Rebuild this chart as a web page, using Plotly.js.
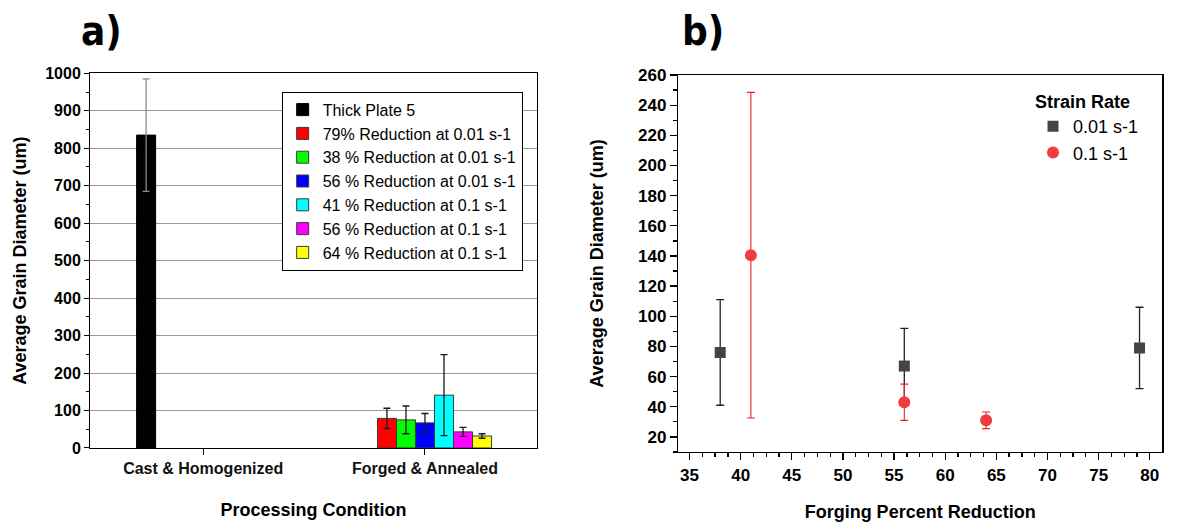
<!DOCTYPE html>
<html>
<head>
<meta charset="utf-8">
<script src="https://cdn.plot.ly/plotly-3.0.1.min.js"></script>
<style>
html, body { margin: 0; padding: 0; background: #fff; }
#chart { width: 1186px; height: 522px; }
</style>
</head>
<body>
<div id="chart"></div>
<script>
// ---------- Panel a) data ----------
const categories = ['Cast & Homogenized', 'Forged & Annealed'];
const barNames = [
  'Thick Plate 5',
  '79% Reduction at 0.01 s-1',
  '38 % Reduction at 0.01 s-1',
  '56 % Reduction at 0.01 s-1',
  '41 % Reduction at 0.1 s-1',
  '56 % Reduction at 0.1 s-1',
  '64 % Reduction at 0.1 s-1'
];
const thickPlate = [835, null];
const thickPlateErr = [150, null];
const red79_001 = [null, 79];
const red79_001Err = [null, 27];
const red38_001 = [null, 75];
const red38_001Err = [null, 37];
const red56_001 = [null, 67];
const red56_001Err = [null, 25];
const red41_01 = [null, 141];
const red41_01Err = [null, 108];
const red56_01 = [null, 43];
const red56_01Err = [null, 12];
const red64_01 = [null, 32];
const red64_01Err = [null, 6];

// ---------- Panel b) data ----------
const pct001 = [38, 56, 79];
const grain001 = [76, 67, 79];
const grain001Err = [35, 25, 27];
const pct01 = [41, 56, 64];
const grain01 = [140.5, 43, 31];
const grain01Err = [108, 12, 5.5];

const FONT = '"Liberation Sans", Arial, sans-serif';
const FONTB = '"Liberation Sans", Arial, sans-serif';
const LABELFONT = '"Liberation Sans Narrow", "DejaVu Sans Condensed", Arial, sans-serif';

const barColors = ['#000000', '#ff0000', '#00ff00', '#0000ff', '#00ffff', '#ff00ff', '#ffff00'];
const barVals = [thickPlate, red79_001, red38_001, red56_001, red41_01, red56_01, red64_01];
const barErrs = [thickPlateErr, red79_001Err, red38_001Err, red56_001Err, red41_01Err, red56_01Err, red64_01Err];

const traces = barVals.map((vals, i) => ({
  type: 'bar',
  x: categories,
  y: vals,
  name: barNames[i],
  xaxis: 'x', yaxis: 'y',
  legend: 'legend',
  marker: { color: barColors[i], line: { color: i === 0 ? '#000000' : '#3a3a3a', width: 1 } },
  error_y: { type: 'data', array: barErrs[i], visible: true,
             color: i === 0 ? '#8a8a8a' : '#1a1a1a', thickness: 1.3, width: 3.5 },
  hoverinfo: 'x+y+name'
}));

traces.push({
  type: 'scatter', mode: 'markers',
  x: pct001, y: grain001, name: '0.01 s-1',
  xaxis: 'x2', yaxis: 'y2', legend: 'legend2',
  marker: { symbol: 'square', size: 11, color: '#444444' },
  error_y: { type: 'data', array: grain001Err, visible: true, color: '#222222', thickness: 1.3, width: 4 }
});
traces.push({
  type: 'scatter', mode: 'markers',
  x: pct01, y: grain01, name: '0.1 s-1',
  xaxis: 'x2', yaxis: 'y2', legend: 'legend2',
  marker: { symbol: 'circle', size: 12, color: '#f03c3c' },
  error_y: { type: 'data', array: grain01Err, visible: true, color: '#e8262b', thickness: 1.1, width: 4 }
});

const tickFontA = { family: FONTB, size: 16, color: '#000', weight: 'bold' };
const tickFontB = { family: FONTB, size: 17, color: '#000', weight: 'bold' };
const titleFont = { family: FONTB, size: 18, color: '#000', weight: 'bold' };

const layout = {
  width: 1186, height: 522,
  margin: { l: 0, r: 0, t: 0, b: 0 },
  paper_bgcolor: '#fff', plot_bgcolor: '#fff',
  font: { family: FONT, color: '#000' },
  barmode: 'group', bargap: 0.4, bargroupgap: 0,
  xaxis: {
    domain: [0.0759, 0.4528], anchor: 'y',
    type: 'category', range: [-0.51, 1.505],
    showline: true, linecolor: '#000', linewidth: 1, mirror: true,
    ticks: 'outside', ticklen: 6, tickcolor: '#000',
    tickfont: { family: FONTB, size: 16, color: '#111', weight: 'bold' },
    showgrid: false, zeroline: false, automargin: false,
    title: { text: 'Processing Condition', font: titleFont, standoff: 27 }
  },
  yaxis: {
    domain: [0.1418, 0.8596], anchor: 'x',
    range: [0, 1000], dtick: 100, tick0: 0,
    showline: true, linecolor: '#000', linewidth: 1, mirror: true,
    ticks: 'outside', ticklen: 5, tickcolor: '#000',
    minor: { dtick: 50, ticks: 'outside', ticklen: 3, tickcolor: '#000', showgrid: false },
    showgrid: true, gridcolor: '#9a9a9a', gridwidth: 1,
    zeroline: false, automargin: false,
    tickfont: tickFontA,
    title: { text: 'Average Grain Diameter (um)', font: titleFont, standoff: 13 }
  },
  yaxis3: {
    overlaying: 'y', anchor: 'x', side: 'right',
    range: [0, 1000], dtick: 100, tick0: 0,
    ticks: 'inside', ticklen: 5, tickcolor: '#000',
    minor: { dtick: 50, ticks: 'inside', ticklen: 3, tickcolor: '#000' },
    showticklabels: false, showgrid: false, zeroline: false, showline: false, automargin: false
  },
  xaxis2: {
    domain: [0.5719, 0.9798], anchor: 'y2',
    range: [33.9, 81.2], dtick: 5, tick0: 35,
    showline: true, linecolor: '#000', linewidth: 1.5, mirror: true,
    ticks: 'outside', ticklen: 7, tickcolor: '#000', tickwidth: 1.3,
    minor: { dtick: 1.25, tick0: 35, ticks: 'outside', ticklen: 4, tickcolor: '#000' },
    showgrid: false, zeroline: false, automargin: false,
    tickfont: tickFontB,
    title: { text: 'Forging Percent Reduction', font: titleFont, standoff: 23 }
  },
  xaxis3: {
    overlaying: 'x2', anchor: 'y2', side: 'top',
    range: [33.9, 81.2], dtick: 5, tick0: 35,
    ticks: 'inside', ticklen: 6, tickcolor: '#000', tickwidth: 1.3,
    minor: { dtick: 1.25, tick0: 35, ticks: 'inside', ticklen: 3, tickcolor: '#000' },
    showticklabels: false, showgrid: false, zeroline: false, showline: false, automargin: false
  },
  yaxis2: {
    domain: [0.1341, 0.8563], anchor: 'x2',
    range: [10, 260], dtick: 20, tick0: 20,
    showline: true, linecolor: '#000', linewidth: 1.5, mirror: true,
    ticks: 'outside', ticklen: 7, tickcolor: '#000', tickwidth: 1.3,
    minor: { dtick: 10, tick0: 0, ticks: 'outside', ticklen: 4, tickcolor: '#000' },
    showgrid: false, zeroline: false, automargin: false,
    tickfont: tickFontB,
    title: { text: 'Average Grain Diameter (um)', font: titleFont, standoff: 29 }
  },
  yaxis4: {
    overlaying: 'y2', anchor: 'x2', side: 'right',
    range: [10, 260], dtick: 20, tick0: 20,
    ticks: 'inside', ticklen: 6, tickcolor: '#000', tickwidth: 1.3,
    minor: { dtick: 10, tick0: 0, ticks: 'inside', ticklen: 3, tickcolor: '#000' },
    showticklabels: false, showgrid: false, zeroline: false, showline: false, automargin: false
  },
  legend: {
    x: 0.2375, y: 0.8243, xanchor: 'left', yanchor: 'top',
    bgcolor: '#fff', bordercolor: '#000', borderwidth: 1,
    font: { family: FONT, size: 16, color: '#000' },
    tracegroupgap: 0, itemclick: false
  },
  legend2: {
    x: 0.871, y: 0.838, xanchor: 'left', yanchor: 'top',
    bgcolor: 'rgba(0,0,0,0)', borderwidth: 0,
    font: { family: FONT, size: 18, color: '#000' },
    title: { text: 'Strain Rate', font: { family: FONTB, size: 18, color: '#000', weight: 'bold' } }
  },
  annotations: [
    { text: 'a)', xref: 'paper', yref: 'paper', x: 0.0857, y: 0.9406,
      xanchor: 'center', yanchor: 'middle', showarrow: false,
      font: { family: LABELFONT, size: 40, color: '#000', weight: 'bold' } },
    { text: 'b)', xref: 'paper', yref: 'paper', x: 0.5927, y: 0.9406,
      xanchor: 'center', yanchor: 'middle', showarrow: false,
      font: { family: LABELFONT, size: 40, color: '#000', weight: 'bold' } }
  ],
  showlegend: true
};

Plotly.newPlot('chart', traces, layout, { displayModeBar: false, staticPlot: true });
</script>
</body>
</html>
